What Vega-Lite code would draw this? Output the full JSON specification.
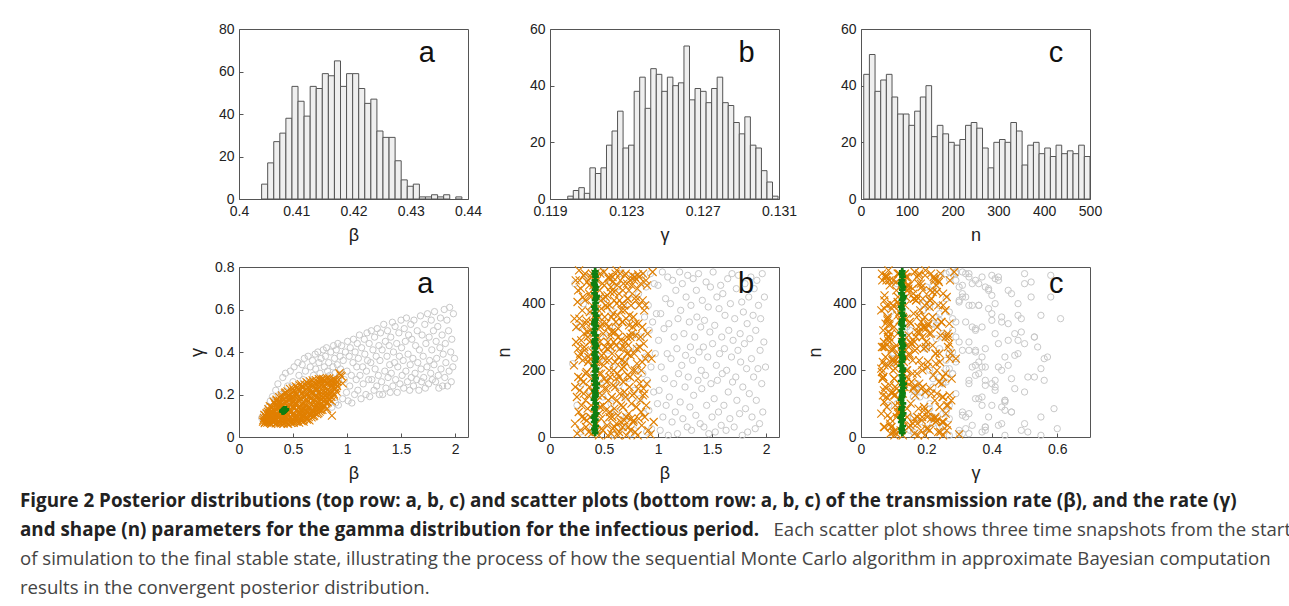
{
"$schema": "https://vega.github.io/schema/vega-lite/v6.json",
"padding": {"left": 20, "top": 21, "right": 0, "bottom": 0},
"columns": 3,
"spacing": {"row": 68, "column": 82},
"bounds": "flush",
"title": {
 "text": ["Figure 2 Posterior distributions (top row: a, b, c) and scatter plots (bottom row: a, b, c) of the transmission rate (β), and the rate (γ)", "and shape (n) parameters for the gamma distribution for the infectious period."],
 "subtitle": ["\u200b\u00a0\u00a0\u00a0\u00a0\u00a0\u00a0\u00a0\u00a0\u00a0\u00a0\u00a0\u00a0\u00a0\u00a0\u00a0\u00a0\u00a0\u00a0\u00a0\u00a0\u00a0\u00a0\u00a0\u00a0\u00a0\u00a0\u00a0\u00a0\u00a0\u00a0\u00a0\u00a0\u00a0\u00a0\u00a0\u00a0\u00a0\u00a0\u00a0\u00a0\u00a0\u00a0\u00a0\u00a0\u00a0\u00a0\u00a0\u00a0\u00a0\u00a0\u00a0\u00a0\u00a0\u00a0\u00a0\u00a0\u00a0\u00a0\u00a0\u00a0\u00a0\u00a0\u00a0\u00a0\u00a0\u00a0\u00a0\u00a0\u00a0\u00a0\u00a0\u00a0\u00a0\u00a0\u00a0\u00a0\u00a0\u00a0\u00a0\u00a0\u00a0\u00a0\u00a0\u00a0\u00a0\u00a0\u00a0\u00a0\u00a0\u00a0\u00a0\u00a0\u00a0\u00a0\u00a0\u00a0\u00a0\u00a0\u00a0\u00a0\u00a0\u00a0\u00a0\u00a0\u00a0\u00a0\u00a0\u00a0\u00a0\u00a0\u00a0\u00a0\u00a0\u00a0\u00a0\u00a0\u00a0\u00a0\u00a0\u00a0\u00a0\u00a0\u00a0\u00a0\u00a0\u00a0\u00a0\u00a0\u00a0\u00a0\u00a0\u00a0\u00a0\u00a0\u00a0\u00a0\u00a0\u00a0\u00a0\u00a0\u00a0\u00a0\u00a0\u00a0\u00a0\u00a0\u00a0\u00a0\u00a0\u00a0\u00a0\u00a0\u00a0\u00a0\u00a0 Each scatter plot shows three time snapshots from the start", "of simulation to the final stable state, illustrating the process of how the sequential Monte Carlo algorithm in approximate Bayesian computation", "results in the convergent posterior distribution."],
 "orient": "bottom", "anchor": "start", "frame": "group", "dx": -219, "offset": 9,
 "font": "Open Sans", "fontSize": 18.8, "fontWeight": "bold", "color": "#222222", "lineHeight": 29.3, "baseline": "top",
 "subtitleFont": "Open Sans", "subtitleFontSize": 18.6, "subtitleFontWeight": "normal", "subtitleColor": "#444444", "subtitleLineHeight": 29.3, "subtitlePadding": -18.8
},
"datasets": {
 "hb": [{"x0":0.40395,"x1":0.40501,"c":7},{"x0":0.40501,"x1":0.40607,"c":17},{"x0":0.40607,"x1":0.40713,"c":27},{"x0":0.40713,"x1":0.40819,"c":31},{"x0":0.40819,"x1":0.40925,"c":38},{"x0":0.40925,"x1":0.41031,"c":53},{"x0":0.41031,"x1":0.41137,"c":46},{"x0":0.41137,"x1":0.41243,"c":39},{"x0":0.41243,"x1":0.41349,"c":53},{"x0":0.41349,"x1":0.41455,"c":52},{"x0":0.41455,"x1":0.41561,"c":59},{"x0":0.41561,"x1":0.41667,"c":58},{"x0":0.41667,"x1":0.41773,"c":65},{"x0":0.41773,"x1":0.41879,"c":53},{"x0":0.41879,"x1":0.41985,"c":59},{"x0":0.41985,"x1":0.42091,"c":59},{"x0":0.42091,"x1":0.42197,"c":52},{"x0":0.42197,"x1":0.42303,"c":45},{"x0":0.42303,"x1":0.42409,"c":47},{"x0":0.42409,"x1":0.42515,"c":32},{"x0":0.42515,"x1":0.42621,"c":29},{"x0":0.42621,"x1":0.42727,"c":29},{"x0":0.42727,"x1":0.42833,"c":18},{"x0":0.42833,"x1":0.42939,"c":9},{"x0":0.42939,"x1":0.43045,"c":6},{"x0":0.43045,"x1":0.43151,"c":7},{"x0":0.43151,"x1":0.43257,"c":1},{"x0":0.43257,"x1":0.43363,"c":1},{"x0":0.43363,"x1":0.43469,"c":2},{"x0":0.43469,"x1":0.43575,"c":1},{"x0":0.43575,"x1":0.43681,"c":2},{"x0":0.43787,"x1":0.43893,"c":1}],
 "hg": [{"x0":0.11993,"x1":0.12022,"c":1},{"x0":0.12022,"x1":0.12051,"c":3},{"x0":0.12051,"x1":0.1208,"c":4},{"x0":0.1208,"x1":0.12109,"c":2},{"x0":0.12109,"x1":0.12138,"c":11},{"x0":0.12138,"x1":0.12167,"c":9},{"x0":0.12167,"x1":0.12196,"c":11},{"x0":0.12196,"x1":0.12225,"c":19},{"x0":0.12225,"x1":0.12254,"c":24},{"x0":0.12254,"x1":0.12283,"c":31},{"x0":0.12283,"x1":0.12312,"c":18},{"x0":0.12312,"x1":0.12341,"c":19},{"x0":0.12341,"x1":0.1237,"c":38},{"x0":0.1237,"x1":0.12399,"c":43},{"x0":0.12399,"x1":0.12428,"c":32},{"x0":0.12428,"x1":0.12457,"c":46},{"x0":0.12457,"x1":0.12486,"c":44},{"x0":0.12486,"x1":0.12515,"c":38},{"x0":0.12515,"x1":0.12544,"c":43},{"x0":0.12544,"x1":0.12573,"c":40},{"x0":0.12573,"x1":0.12602,"c":41},{"x0":0.12602,"x1":0.12631,"c":54},{"x0":0.12631,"x1":0.1266,"c":35},{"x0":0.1266,"x1":0.12689,"c":39},{"x0":0.12689,"x1":0.12718,"c":38},{"x0":0.12718,"x1":0.12747,"c":34},{"x0":0.12747,"x1":0.12776,"c":39},{"x0":0.12776,"x1":0.12805,"c":43},{"x0":0.12805,"x1":0.12834,"c":34},{"x0":0.12834,"x1":0.12863,"c":33},{"x0":0.12863,"x1":0.12892,"c":27},{"x0":0.12892,"x1":0.12921,"c":23},{"x0":0.12921,"x1":0.1295,"c":29},{"x0":0.1295,"x1":0.12979,"c":19},{"x0":0.12979,"x1":0.13008,"c":18},{"x0":0.13008,"x1":0.13037,"c":10},{"x0":0.13037,"x1":0.13066,"c":6},{"x0":0.13066,"x1":0.13095,"c":1}],
 "hn": [{"x0":6,"x1":18.35,"c":44},{"x0":18.35,"x1":30.7,"c":51},{"x0":30.7,"x1":43.05,"c":38},{"x0":43.05,"x1":55.4,"c":42},{"x0":55.4,"x1":67.75,"c":44},{"x0":67.75,"x1":80.1,"c":36},{"x0":80.1,"x1":92.45,"c":30},{"x0":92.45,"x1":104.8,"c":30},{"x0":104.8,"x1":117.15,"c":26},{"x0":117.15,"x1":129.5,"c":31},{"x0":129.5,"x1":141.85,"c":36},{"x0":141.85,"x1":154.2,"c":40},{"x0":154.2,"x1":166.55,"c":22},{"x0":166.55,"x1":178.9,"c":26},{"x0":178.9,"x1":191.25,"c":23},{"x0":191.25,"x1":203.6,"c":20},{"x0":203.6,"x1":215.95,"c":19},{"x0":215.95,"x1":228.3,"c":21},{"x0":228.3,"x1":240.65,"c":26},{"x0":240.65,"x1":253,"c":27},{"x0":253,"x1":265.35,"c":25},{"x0":265.35,"x1":277.7,"c":18},{"x0":277.7,"x1":290.05,"c":11},{"x0":290.05,"x1":302.4,"c":20},{"x0":302.4,"x1":314.75,"c":21},{"x0":314.75,"x1":327.1,"c":20},{"x0":327.1,"x1":339.45,"c":27},{"x0":339.45,"x1":351.8,"c":24},{"x0":351.8,"x1":364.15,"c":12},{"x0":364.15,"x1":376.5,"c":19},{"x0":376.5,"x1":388.85,"c":20},{"x0":388.85,"x1":401.2,"c":16},{"x0":401.2,"x1":413.55,"c":18},{"x0":413.55,"x1":425.9,"c":15},{"x0":425.9,"x1":438.25,"c":19},{"x0":438.25,"x1":450.6,"c":16},{"x0":450.6,"x1":462.95,"c":17},{"x0":462.95,"x1":475.3,"c":16},{"x0":475.3,"x1":487.65,"c":19},{"x0":487.65,"x1":500,"c":15}],
 "grey": [{"b":0.21,"g":0.09,"n":220},{"b":0.23,"g":0.11,"n":460},{"b":0.25,"g":0.085,"n":95},{"b":0.27,"g":0.14,"n":330},{"b":0.28,"g":0.1,"n":15},{"b":0.29,"g":0.17,"n":160},
 {"b":0.31,"g":0.19,"n":400},{"b":0.32,"g":0.1,"n":250},{"b":0.34,"g":0.22,"n":60},{"b":0.35,"g":0.13,"n":480},{"b":0.36,"g":0.25,"n":310},{"b":0.37,"g":0.16,"n":140},{"b":0.38,"g":0.09,"n":375},{"b":0.39,"g":0.2,"n":25},
 {"b":0.405,"g":0.28,"n":190},{"b":0.41,"g":0.12,"n":440},{"b":0.42,"g":0.21,"n":85},{"b":0.43,"g":0.3,"n":285},{"b":0.44,"g":0.15,"n":20},{"b":0.45,"g":0.24,"n":350},{"b":0.46,"g":0.1,"n":235},{"b":0.475,"g":0.31,"n":495},{"b":0.49,"g":0.18,"n":120},
 {"b":0.5,"g":0.26,"n":415},{"b":0.51,"g":0.33,"n":170},{"b":0.52,"g":0.14,"n":300},{"b":0.53,"g":0.22,"n":40},{"b":0.545,"g":0.35,"n":260},{"b":0.555,"g":0.29,"n":470},{"b":0.565,"g":0.11,"n":100},{"b":0.575,"g":0.19,"n":380},{"b":0.585,"g":0.34,"n":210},{"b":0.595,"g":0.27,"n":5},
 {"b":0.605,"g":0.37,"n":330},{"b":0.615,"g":0.31,"n":75},{"b":0.625,"g":0.2,"n":450},{"b":0.64,"g":0.38,"n":155},{"b":0.65,"g":0.13,"n":270},{"b":0.66,"g":0.33,"n":490},{"b":0.67,"g":0.25,"n":30},{"b":0.68,"g":0.36,"n":395},{"b":0.69,"g":0.29,"n":225},{"b":0.695,"g":0.16,"n":120},
 {"b":0.705,"g":0.39,"n":60},{"b":0.71,"g":0.32,"n":345},{"b":0.72,"g":0.22,"n":175},{"b":0.73,"g":0.4,"n":425},{"b":0.74,"g":0.35,"n":255},{"b":0.75,"g":0.3,"n":10},{"b":0.76,"g":0.37,"n":480},{"b":0.77,"g":0.13,"n":305},{"b":0.78,"g":0.41,"n":140},{"b":0.79,"g":0.33,"n":395},{"b":0.795,"g":0.27,"n":205},
 {"b":0.8,"g":0.38,"n":265},{"b":0.81,"g":0.42,"n":35},{"b":0.82,"g":0.31,"n":430},{"b":0.83,"g":0.35,"n":115},{"b":0.84,"g":0.29,"n":300},{"b":0.85,"g":0.4,"n":485},{"b":0.86,"g":0.14,"n":190},{"b":0.87,"g":0.33,"n":70},{"b":0.875,"g":0.43,"n":360},{"b":0.885,"g":0.37,"n":240},{"b":0.89,"g":0.3,"n":450},{"b":0.895,"g":0.16,"n":15},
 {"b":0.9,"g":0.41,"n":170},{"b":0.91,"g":0.34,"n":395},{"b":0.915,"g":0.44,"n":80},{"b":0.92,"g":0.15,"n":320},{"b":0.93,"g":0.29,"n":490},{"b":0.935,"g":0.38,"n":210},{"b":0.94,"g":0.32,"n":25},{"b":0.95,"g":0.43,"n":345},{"b":0.96,"g":0.18,"n":135},{"b":0.965,"g":0.36,"n":460},{"b":0.975,"g":0.27,"n":250},{"b":0.985,"g":0.4,"n":370},{"b":0.995,"g":0.21,"n":100},
 {"b":1.0,"g":0.31,"n":455},{"b":1.005,"g":0.45,"n":290},{"b":1.01,"g":0.17,"n":140},{"b":1.02,"g":0.38,"n":20},{"b":1.025,"g":0.24,"n":370},{"b":1.03,"g":0.42,"n":210},{"b":1.04,"g":0.29,"n":495},{"b":1.045,"g":0.16,"n":60},{"b":1.055,"g":0.35,"n":325},{"b":1.06,"g":0.46,"n":175},{"b":1.07,"g":0.2,"n":415},{"b":1.075,"g":0.4,"n":95},{"b":1.085,"g":0.27,"n":250},{"b":1.09,"g":0.33,"n":480},{"b":1.095,"g":0.44,"n":5},
 {"b":1.1,"g":0.22,"n":340},{"b":1.105,"g":0.37,"n":120},{"b":1.115,"g":0.48,"n":400},{"b":1.12,"g":0.29,"n":235},{"b":1.13,"g":0.18,"n":45},{"b":1.135,"g":0.42,"n":470},{"b":1.145,"g":0.33,"n":160},{"b":1.15,"g":0.25,"n":300},{"b":1.16,"g":0.46,"n":75},{"b":1.165,"g":0.39,"n":440},{"b":1.175,"g":0.2,"n":265},{"b":1.18,"g":0.31,"n":10},{"b":1.185,"g":0.49,"n":355},{"b":1.19,"g":0.36,"n":190},{"b":1.2,"g":0.27,"n":495},
 {"b":1.205,"g":0.44,"n":105},{"b":1.21,"g":0.19,"n":380},{"b":1.22,"g":0.35,"n":215},{"b":1.225,"g":0.5,"n":460},{"b":1.23,"g":0.27,"n":55},{"b":1.24,"g":0.41,"n":310},{"b":1.25,"g":0.22,"n":150},{"b":1.255,"g":0.47,"n":245},{"b":1.26,"g":0.32,"n":420},{"b":1.27,"g":0.38,"n":30},{"b":1.275,"g":0.24,"n":485},{"b":1.28,"g":0.51,"n":180},{"b":1.29,"g":0.29,"n":345},{"b":1.295,"g":0.43,"n":90},{"b":1.3,"g":0.2,"n":270},
 {"b":1.305,"g":0.36,"n":395},{"b":1.31,"g":0.49,"n":20},{"b":1.32,"g":0.26,"n":230},{"b":1.325,"g":0.41,"n":475},{"b":1.33,"g":0.2,"n":125},{"b":1.34,"g":0.53,"n":300},{"b":1.35,"g":0.31,"n":65},{"b":1.355,"g":0.45,"n":440},{"b":1.36,"g":0.23,"n":360},{"b":1.37,"g":0.38,"n":170},{"b":1.375,"g":0.5,"n":490},{"b":1.38,"g":0.28,"n":255},{"b":1.39,"g":0.43,"n":40},{"b":1.395,"g":0.34,"n":330},{"b":1.4,"g":0.21,"n":200},
 {"b":1.405,"g":0.47,"n":145},{"b":1.41,"g":0.3,"n":410},{"b":1.42,"g":0.54,"n":270},{"b":1.425,"g":0.24,"n":30},{"b":1.43,"g":0.4,"n":350},{"b":1.44,"g":0.35,"n":185},{"b":1.445,"g":0.52,"n":465},{"b":1.45,"g":0.27,"n":95},{"b":1.46,"g":0.44,"n":240},{"b":1.465,"g":0.21,"n":390},{"b":1.47,"g":0.33,"n":10},{"b":1.48,"g":0.49,"n":315},{"b":1.485,"g":0.38,"n":450},{"b":1.49,"g":0.25,"n":160},{"b":1.5,"g":0.55,"n":60},
 {"b":1.505,"g":0.42,"n":280},{"b":1.51,"g":0.29,"n":495},{"b":1.52,"g":0.36,"n":115},{"b":1.525,"g":0.23,"n":335},{"b":1.53,"g":0.51,"n":15},{"b":1.54,"g":0.45,"n":215},{"b":1.545,"g":0.31,"n":420},{"b":1.55,"g":0.56,"n":170},{"b":1.56,"g":0.26,"n":75},{"b":1.565,"g":0.39,"n":385},{"b":1.57,"g":0.48,"n":250},{"b":1.58,"g":0.22,"n":455},{"b":1.585,"g":0.34,"n":35},{"b":1.59,"g":0.53,"n":300},{"b":1.595,"g":0.28,"n":190},
 {"b":1.6,"g":0.46,"n":430},{"b":1.61,"g":0.37,"n":95},{"b":1.615,"g":0.24,"n":265},{"b":1.62,"g":0.55,"n":365},{"b":1.63,"g":0.3,"n":20},{"b":1.635,"g":0.43,"n":200},{"b":1.645,"g":0.27,"n":475},{"b":1.65,"g":0.5,"n":135},{"b":1.655,"g":0.35,"n":320},{"b":1.665,"g":0.22,"n":55},{"b":1.67,"g":0.41,"n":400},{"b":1.68,"g":0.57,"n":240},{"b":1.685,"g":0.32,"n":490},{"b":1.69,"g":0.26,"n":165},{"b":1.695,"g":0.48,"n":290},
 {"b":1.705,"g":0.38,"n":30},{"b":1.71,"g":0.28,"n":355},{"b":1.72,"g":0.53,"n":180},{"b":1.725,"g":0.23,"n":445},{"b":1.73,"g":0.44,"n":110},{"b":1.74,"g":0.33,"n":260},{"b":1.745,"g":0.58,"n":485},{"b":1.755,"g":0.25,"n":70},{"b":1.76,"g":0.47,"n":310},{"b":1.765,"g":0.36,"n":225},{"b":1.775,"g":0.3,"n":405},{"b":1.78,"g":0.55,"n":5},{"b":1.785,"g":0.41,"n":150},{"b":1.79,"g":0.27,"n":375},{"b":1.8,"g":0.5,"n":280},
 {"b":1.805,"g":0.34,"n":460},{"b":1.81,"g":0.59,"n":85},{"b":1.82,"g":0.26,"n":205},{"b":1.825,"g":0.45,"n":340},{"b":1.83,"g":0.37,"n":15},{"b":1.84,"g":0.52,"n":420},{"b":1.845,"g":0.29,"n":130},{"b":1.85,"g":0.23,"n":295},{"b":1.86,"g":0.42,"n":480},{"b":1.865,"g":0.56,"n":235},{"b":1.87,"g":0.32,"n":60},{"b":1.88,"g":0.48,"n":365},{"b":1.885,"g":0.24,"n":180},{"b":1.89,"g":0.39,"n":445},{"b":1.9,"g":0.6,"n":25},
 {"b":1.905,"g":0.28,"n":320},{"b":1.91,"g":0.44,"n":110},{"b":1.915,"g":0.35,"n":470},{"b":1.925,"g":0.55,"n":205},{"b":1.93,"g":0.24,"n":395},{"b":1.94,"g":0.5,"n":40},{"b":1.945,"g":0.31,"n":260},{"b":1.95,"g":0.61,"n":355},{"b":1.96,"g":0.4,"n":160},{"b":1.965,"g":0.26,"n":490},{"b":1.97,"g":0.46,"n":75},{"b":1.98,"g":0.33,"n":285},{"b":1.985,"g":0.58,"n":420},{"b":1.995,"g":0.37,"n":210}],
 "orange": [{"b":0.222,"g":0.072,"n":215},{"b":0.231,"g":0.089,"n":40},{"b":0.238,"g":0.065,"n":470},{"b":0.244,"g":0.101,"n":330},{"b":0.249,"g":0.078,"n":120},{"b":0.255,"g":0.112,"n":405},{"b":0.258,"g":0.094,"n":265},{"b":0.262,"g":0.068,"n":180},{"b":0.266,"g":0.118,"n":75},{"b":0.269,"g":0.084,"n":500},
 {"b":0.272,"g":0.131,"n":355},{"b":0.276,"g":0.07,"n":140},{"b":0.281,"g":0.108,"n":20},{"b":0.285,"g":0.145,"n":445},{"b":0.289,"g":0.083,"n":290},{"b":0.293,"g":0.119,"n":95},{"b":0.298,"g":0.062,"n":380},{"b":0.302,"g":0.096,"n":230},{"b":0.307,"g":0.138,"n":165},{"b":0.311,"g":0.076,"n":485},{"b":0.315,"g":0.112,"n":310},{"b":0.318,"g":0.089,"n":55},
 {"b":0.322,"g":0.165,"n":260},{"b":0.325,"g":0.071,"n":410},{"b":0.329,"g":0.124,"n":110},{"b":0.333,"g":0.093,"n":30},{"b":0.336,"g":0.152,"n":340},{"b":0.34,"g":0.064,"n":195},{"b":0.344,"g":0.108,"n":465},{"b":0.348,"g":0.176,"n":85},{"b":0.351,"g":0.082,"n":300},{"b":0.355,"g":0.137,"n":240},{"b":0.359,"g":0.099,"n":15},{"b":0.362,"g":0.16,"n":430},{"b":0.366,"g":0.074,"n":150},{"b":0.369,"g":0.118,"n":375},
 {"b":0.372,"g":0.187,"n":60},{"b":0.375,"g":0.068,"n":320},{"b":0.379,"g":0.142,"n":480},{"b":0.383,"g":0.101,"n":175},{"b":0.386,"g":0.163,"n":10},{"b":0.39,"g":0.079,"n":395},{"b":0.394,"g":0.125,"n":255},{"b":0.397,"g":0.196,"n":135},{"b":0.401,"g":0.088,"n":455},{"b":0.405,"g":0.153,"n":280},{"b":0.409,"g":0.113,"n":70},{"b":0.412,"g":0.062,"n":205},{"b":0.415,"g":0.176,"n":365},{"b":0.418,"g":0.134,"n":490},
 {"b":0.422,"g":0.071,"n":105},{"b":0.425,"g":0.205,"n":225},{"b":0.428,"g":0.118,"n":350},{"b":0.432,"g":0.159,"n":40},{"b":0.435,"g":0.087,"n":470},{"b":0.439,"g":0.188,"n":300},{"b":0.442,"g":0.131,"n":160},{"b":0.446,"g":0.064,"n":270},{"b":0.449,"g":0.215,"n":415},{"b":0.453,"g":0.102,"n":5},{"b":0.456,"g":0.171,"n":190},{"b":0.46,"g":0.143,"n":440},{"b":0.463,"g":0.079,"n":90},{"b":0.467,"g":0.196,"n":330},
 {"b":0.472,"g":0.226,"n":55},{"b":0.475,"g":0.095,"n":385},{"b":0.479,"g":0.148,"n":245},{"b":0.482,"g":0.067,"n":125},{"b":0.486,"g":0.183,"n":460},{"b":0.489,"g":0.121,"n":20},{"b":0.493,"g":0.208,"n":310},{"b":0.496,"g":0.083,"n":215},{"b":0.5,"g":0.164,"n":495},{"b":0.504,"g":0.109,"n":145},{"b":0.507,"g":0.219,"n":360},{"b":0.511,"g":0.073,"n":270},{"b":0.514,"g":0.137,"n":420},{"b":0.518,"g":0.192,"n":80},
 {"b":0.522,"g":0.087,"n":340},{"b":0.525,"g":0.238,"n":165},{"b":0.529,"g":0.151,"n":35},{"b":0.532,"g":0.072,"n":425},{"b":0.536,"g":0.199,"n":285},{"b":0.539,"g":0.119,"n":110},{"b":0.543,"g":0.224,"n":475},{"b":0.546,"g":0.097,"n":230},{"b":0.55,"g":0.172,"n":60},{"b":0.553,"g":0.135,"n":395},{"b":0.557,"g":0.068,"n":180},{"b":0.56,"g":0.243,"n":305},{"b":0.564,"g":0.185,"n":450},{"b":0.567,"g":0.108,"n":10},
 {"b":0.572,"g":0.249,"n":120},{"b":0.575,"g":0.128,"n":250},{"b":0.579,"g":0.075,"n":480},{"b":0.582,"g":0.205,"n":25},{"b":0.586,"g":0.161,"n":370},{"b":0.589,"g":0.098,"n":200},{"b":0.593,"g":0.232,"n":435},{"b":0.596,"g":0.141,"n":85},{"b":0.6,"g":0.083,"n":315},{"b":0.604,"g":0.189,"n":150},{"b":0.607,"g":0.117,"n":490},{"b":0.611,"g":0.219,"n":275},{"b":0.614,"g":0.172,"n":40},{"b":0.618,"g":0.091,"n":400},
 {"b":0.622,"g":0.147,"n":455},{"b":0.625,"g":0.258,"n":190},{"b":0.629,"g":0.082,"n":65},{"b":0.632,"g":0.199,"n":325},{"b":0.636,"g":0.115,"n":240},{"b":0.639,"g":0.236,"n":15},{"b":0.643,"g":0.168,"n":410},{"b":0.646,"g":0.094,"n":130},{"b":0.65,"g":0.214,"n":490},{"b":0.654,"g":0.131,"n":290},{"b":0.657,"g":0.262,"n":95},{"b":0.661,"g":0.181,"n":380},{"b":0.664,"g":0.105,"n":205},{"b":0.668,"g":0.245,"n":345},
 {"b":0.672,"g":0.092,"n":30},{"b":0.675,"g":0.211,"n":440},{"b":0.679,"g":0.154,"n":165},{"b":0.682,"g":0.266,"n":270},{"b":0.686,"g":0.118,"n":395},{"b":0.689,"g":0.232,"n":50},{"b":0.693,"g":0.176,"n":485},{"b":0.696,"g":0.101,"n":225},{"b":0.7,"g":0.251,"n":120},{"b":0.704,"g":0.139,"n":355},{"b":0.707,"g":0.195,"n":5},{"b":0.711,"g":0.268,"n":300},{"b":0.714,"g":0.125,"n":460},{"b":0.718,"g":0.221,"n":185},
 {"b":0.722,"g":0.162,"n":415},{"b":0.725,"g":0.108,"n":275},{"b":0.729,"g":0.259,"n":70},{"b":0.732,"g":0.205,"n":335},{"b":0.736,"g":0.133,"n":150},{"b":0.739,"g":0.272,"n":470},{"b":0.743,"g":0.183,"n":20},{"b":0.746,"g":0.119,"n":245},{"b":0.75,"g":0.236,"n":395},{"b":0.754,"g":0.152,"n":100},{"b":0.757,"g":0.265,"n":310},{"b":0.761,"g":0.196,"n":485},{"b":0.764,"g":0.141,"n":200},{"b":0.768,"g":0.248,"n":45},
 {"b":0.772,"g":0.128,"n":360},{"b":0.776,"g":0.215,"n":130},{"b":0.78,"g":0.274,"n":250},{"b":0.784,"g":0.171,"n":480},{"b":0.788,"g":0.243,"n":15},{"b":0.792,"g":0.146,"n":305},{"b":0.796,"g":0.262,"n":420},{"b":0.8,"g":0.193,"n":90},{"b":0.805,"g":0.229,"n":220},{"b":0.809,"g":0.158,"n":445},{"b":0.814,"g":0.277,"n":175},{"b":0.818,"g":0.206,"n":340},
 {"b":0.822,"g":0.163,"n":55},{"b":0.826,"g":0.251,"n":395},{"b":0.831,"g":0.198,"n":270},{"b":0.836,"g":0.276,"n":110},{"b":0.84,"g":0.176,"n":460},{"b":0.845,"g":0.232,"n":200},{"b":0.85,"g":0.265,"n":35},{"b":0.855,"g":0.189,"n":330},{"b":0.861,"g":0.243,"n":490},{"b":0.866,"g":0.212,"n":145},
 {"b":0.872,"g":0.258,"n":380},{"b":0.877,"g":0.203,"n":60},{"b":0.883,"g":0.271,"n":235},{"b":0.889,"g":0.226,"n":470},{"b":0.896,"g":0.247,"n":160},{"b":0.903,"g":0.214,"n":310},{"b":0.911,"g":0.262,"n":20},
 {"b":0.815,"g":0.133,"n":488},{"b":0.86,"g":0.101,"n":125},{"b":0.94,"g":0.29,"n":235},{"b":0.96,"g":0.252,"n":45},{"b":0.93,"g":0.3,"n":8},{"b":0.95,"g":0.285,"n":495},
 {"b":0.226,"g":0.081,"n":355},{"b":0.234,"g":0.104,"n":150},{"b":0.241,"g":0.07,"n":285},{"b":0.252,"g":0.09,"n":10},{"b":0.26,"g":0.108,"n":440},{"b":0.268,"g":0.075,"n":240},
 {"b":0.274,"g":0.098,"n":470},{"b":0.279,"g":0.125,"n":250},{"b":0.287,"g":0.066,"n":175},{"b":0.295,"g":0.141,"n":60},{"b":0.3,"g":0.087,"n":335},{"b":0.305,"g":0.113,"n":420},{"b":0.313,"g":0.128,"n":130},{"b":0.317,"g":0.069,"n":270},
 {"b":0.324,"g":0.114,"n":490},{"b":0.331,"g":0.158,"n":190},{"b":0.338,"g":0.081,"n":350},{"b":0.342,"g":0.13,"n":50},{"b":0.346,"g":0.171,"n":315},{"b":0.353,"g":0.067,"n":225},{"b":0.357,"g":0.104,"n":125},{"b":0.364,"g":0.145,"n":455},{"b":0.368,"g":0.088,"n":285},
 {"b":0.373,"g":0.097,"n":235},{"b":0.377,"g":0.171,"n":420},{"b":0.381,"g":0.119,"n":95},{"b":0.388,"g":0.064,"n":490},{"b":0.392,"g":0.149,"n":345},{"b":0.399,"g":0.185,"n":215},{"b":0.403,"g":0.07,"n":30},{"b":0.407,"g":0.134,"n":445},{"b":0.411,"g":0.092,"n":310},{"b":0.416,"g":0.161,"n":150},
 {"b":0.424,"g":0.137,"n":480},{"b":0.427,"g":0.094,"n":260},{"b":0.431,"g":0.21,"n":20},{"b":0.437,"g":0.072,"n":385},{"b":0.441,"g":0.166,"n":125},{"b":0.447,"g":0.112,"n":225},{"b":0.451,"g":0.195,"n":360},{"b":0.455,"g":0.062,"n":70},{"b":0.461,"g":0.125,"n":285},{"b":0.466,"g":0.178,"n":490},
 {"b":0.474,"g":0.131,"n":190},{"b":0.478,"g":0.2,"n":25},{"b":0.484,"g":0.075,"n":340},{"b":0.488,"g":0.161,"n":415},{"b":0.491,"g":0.105,"n":95},{"b":0.497,"g":0.229,"n":250},{"b":0.502,"g":0.141,"n":455},{"b":0.506,"g":0.066,"n":175},{"b":0.513,"g":0.178,"n":230},{"b":0.517,"g":0.098,"n":395},
 {"b":0.523,"g":0.16,"n":145},{"b":0.527,"g":0.21,"n":390},{"b":0.531,"g":0.101,"n":265},{"b":0.535,"g":0.128,"n":5},{"b":0.541,"g":0.233,"n":330},{"b":0.544,"g":0.079,"n":480},{"b":0.548,"g":0.188,"n":200},{"b":0.554,"g":0.113,"n":75},{"b":0.559,"g":0.219,"n":435},{"b":0.562,"g":0.146,"n":270},{"b":0.569,"g":0.082,"n":360},
 {"b":0.571,"g":0.179,"n":315},{"b":0.577,"g":0.109,"n":60},{"b":0.581,"g":0.238,"n":465},{"b":0.584,"g":0.088,"n":155},{"b":0.59,"g":0.151,"n":285},{"b":0.595,"g":0.212,"n":410},{"b":0.598,"g":0.072,"n":30},{"b":0.603,"g":0.131,"n":225},{"b":0.609,"g":0.246,"n":345},{"b":0.612,"g":0.102,"n":175},{"b":0.617,"g":0.197,"n":500},
 {"b":0.621,"g":0.226,"n":110},{"b":0.627,"g":0.123,"n":365},{"b":0.631,"g":0.174,"n":5},{"b":0.634,"g":0.086,"n":300},{"b":0.638,"g":0.251,"n":430},{"b":0.644,"g":0.14,"n":180},{"b":0.648,"g":0.192,"n":265},{"b":0.652,"g":0.078,"n":470},{"b":0.656,"g":0.229,"n":45},{"b":0.662,"g":0.158,"n":230},{"b":0.667,"g":0.116,"n":400},
 {"b":0.671,"g":0.184,"n":345},{"b":0.677,"g":0.24,"n":90},{"b":0.68,"g":0.128,"n":460},{"b":0.684,"g":0.203,"n":210},{"b":0.688,"g":0.097,"n":135},{"b":0.692,"g":0.258,"n":380},{"b":0.698,"g":0.163,"n":285},{"b":0.702,"g":0.112,"n":490},{"b":0.706,"g":0.227,"n":60},{"b":0.712,"g":0.148,"n":250},{"b":0.717,"g":0.189,"n":415},
 {"b":0.721,"g":0.227,"n":250},{"b":0.727,"g":0.145,"n":30},{"b":0.731,"g":0.189,"n":440},{"b":0.735,"g":0.112,"n":365},{"b":0.741,"g":0.251,"n":180},{"b":0.745,"g":0.168,"n":300},{"b":0.752,"g":0.214,"n":55},{"b":0.756,"g":0.127,"n":455},{"b":0.762,"g":0.271,"n":125},{"b":0.767,"g":0.176,"n":330},
 {"b":0.774,"g":0.186,"n":50},{"b":0.779,"g":0.236,"n":470},{"b":0.786,"g":0.139,"n":200},{"b":0.791,"g":0.27,"n":340},{"b":0.798,"g":0.21,"n":410},{"b":0.803,"g":0.171,"n":265},{"b":0.811,"g":0.251,"n":5},{"b":0.817,"g":0.184,"n":145},
 {"b":0.824,"g":0.222,"n":480},{"b":0.829,"g":0.178,"n":160},{"b":0.838,"g":0.259,"n":300},{"b":0.843,"g":0.205,"n":75},{"b":0.853,"g":0.241,"n":225},{"b":0.858,"g":0.169,"n":410},{"b":0.868,"g":0.27,"n":280},
 {"b":0.875,"g":0.232,"n":130},{"b":0.881,"g":0.195,"n":395},{"b":0.891,"g":0.266,"n":95},{"b":0.899,"g":0.23,"n":455},{"b":0.908,"g":0.24,"n":250}],
 "green": [{"b":0.418,"g":0.1262,"n":12},{"b":0.412,"g":0.1241,"n":25},{"b":0.423,"g":0.1275,"n":33},{"b":0.409,"g":0.123,"n":45},{"b":0.42,"g":0.1268,"n":52},{"b":0.415,"g":0.1251,"n":64},{"b":0.427,"g":0.129,"n":71},{"b":0.411,"g":0.1236,"n":83},{"b":0.419,"g":0.1259,"n":90},{"b":0.424,"g":0.1281,"n":101},{"b":0.407,"g":0.1224,"n":112},{"b":0.416,"g":0.1255,"n":120},{"b":0.421,"g":0.127,"n":131},{"b":0.413,"g":0.1246,"n":139},{"b":0.429,"g":0.1296,"n":147},{"b":0.417,"g":0.1262,"n":156},{"b":0.41,"g":0.1229,"n":168},{"b":0.422,"g":0.1277,"n":176},{"b":0.414,"g":0.1249,"n":185},{"b":0.419,"g":0.1266,"n":197},{"b":0.426,"g":0.1284,"n":205},{"b":0.408,"g":0.1221,"n":214},{"b":0.417,"g":0.1252,"n":226},{"b":0.423,"g":0.1273,"n":234},{"b":0.412,"g":0.124,"n":247},{"b":0.42,"g":0.1263,"n":255},{"b":0.415,"g":0.1257,"n":266},{"b":0.425,"g":0.1288,"n":274},{"b":0.411,"g":0.1233,"n":286},{"b":0.418,"g":0.126,"n":293},{"b":0.421,"g":0.1271,"n":305},{"b":0.406,"g":0.1216,"n":313},{"b":0.416,"g":0.1249,"n":324},{"b":0.424,"g":0.1279,"n":333},{"b":0.413,"g":0.1243,"n":345},{"b":0.419,"g":0.1265,"n":352},{"b":0.428,"g":0.1293,"n":364},{"b":0.414,"g":0.125,"n":372},{"b":0.42,"g":0.1258,"n":383},{"b":0.41,"g":0.1235,"n":391},{"b":0.422,"g":0.1274,"n":402},{"b":0.417,"g":0.1255,"n":411},{"b":0.431,"g":0.1301,"n":423},{"b":0.412,"g":0.1238,"n":431},{"b":0.419,"g":0.1263,"n":442},{"b":0.425,"g":0.1282,"n":450},{"b":0.409,"g":0.1227,"n":461},{"b":0.416,"g":0.1254,"n":470},{"b":0.421,"g":0.1268,"n":481},{"b":0.414,"g":0.1245,"n":489},{"b":0.418,"g":0.1261,"n":497},{"b":0.405,"g":0.1212,"n":58},{"b":0.434,"g":0.1305,"n":160},{"b":0.423,"g":0.1269,"n":240},{"b":0.411,"g":0.1237,"n":338},{"b":0.426,"g":0.1286,"n":416},{"b":0.415,"g":0.1253,"n":20},{"b":0.42,"g":0.1259,"n":124},{"b":0.417,"g":0.1264,"n":280},{"b":0.413,"g":0.1247,"n":456}]
},
"concat": [
 {"width": 229, "height": 170, "layer": [
  {"data": {"name": "hb"}, "mark": {"type": "bar", "fill": "#efefef", "stroke": "#555555", "strokeWidth": 1},
   "encoding": {"x": {"field": "x0", "type": "quantitative", "scale": {"domain": [0.4, 0.44], "nice": false, "zero": false}, "axis": {"values": [0.4, 0.41, 0.42, 0.43, 0.44], "format": "~g", "title": "β"}},
    "x2": {"field": "x1"},
    "y": {"field": "c", "type": "quantitative", "scale": {"domain": [0, 80], "nice": false}, "axis": {"values": [0, 20, 40, 60, 80], "title": null}},
    "y2": {"datum": 0}}},
  {"data": {"values": [{}]}, "mark": {"type": "text", "fontSize": 29, "baseline": "alphabetic", "align": "center", "color": "#111111"},
   "encoding": {"x": {"datum": 0.4328}, "y": {"datum": 64.5}, "text": {"value": "a"}}}
 ]},
 {"width": 229, "height": 170, "layer": [
  {"data": {"name": "hg"}, "mark": {"type": "bar", "fill": "#efefef", "stroke": "#555555", "strokeWidth": 1},
   "encoding": {"x": {"field": "x0", "type": "quantitative", "scale": {"domain": [0.119, 0.131], "nice": false, "zero": false}, "axis": {"values": [0.119, 0.123, 0.127, 0.131], "format": "~g", "title": "γ"}},
    "x2": {"field": "x1"},
    "y": {"field": "c", "type": "quantitative", "scale": {"domain": [0, 60], "nice": false}, "axis": {"values": [0, 20, 40, 60], "title": null}},
    "y2": {"datum": 0}}},
  {"data": {"values": [{}]}, "mark": {"type": "text", "fontSize": 29, "baseline": "alphabetic", "align": "center", "color": "#111111"},
   "encoding": {"x": {"datum": 0.1293}, "y": {"datum": 48.4}, "text": {"value": "b"}}}
 ]},
 {"width": 229, "height": 170, "layer": [
  {"data": {"name": "hn"}, "mark": {"type": "bar", "fill": "#efefef", "stroke": "#555555", "strokeWidth": 1},
   "encoding": {"x": {"field": "x0", "type": "quantitative", "scale": {"domain": [0, 500], "nice": false}, "axis": {"values": [0, 100, 200, 300, 400, 500], "title": "n"}},
    "x2": {"field": "x1"},
    "y": {"field": "c", "type": "quantitative", "scale": {"domain": [0, 60], "nice": false}, "axis": {"values": [0, 20, 40, 60], "title": null}},
    "y2": {"datum": 0}}},
  {"data": {"values": [{}]}, "mark": {"type": "text", "fontSize": 29, "baseline": "alphabetic", "align": "center", "color": "#111111"},
   "encoding": {"x": {"datum": 426}, "y": {"datum": 48.4}, "text": {"value": "c"}}}
 ]},
 {"width": 229, "height": 170, "layer": [
  {"data": {"name": "grey"}, "mark": {"type": "point", "shape": "circle", "filled": false, "stroke": "#c8c8c8", "strokeWidth": 1, "size": 40, "opacity": 1},
   "encoding": {"x": {"field": "b", "type": "quantitative", "scale": {"domain": [0, 2.12], "nice": false}, "axis": {"values": [0, 0.5, 1, 1.5, 2], "format": "~g", "title": "β"}},
    "y": {"field": "g", "type": "quantitative", "scale": {"domain": [0, 0.8], "nice": false}, "axis": {"values": [0, 0.2, 0.4, 0.6, 0.8], "format": "~g", "title": "γ"}}}},
  {"data": {"name": "orange"}, "mark": {"type": "point", "shape": "M-1,-1L1,1M-1,1L1,-1", "filled": false, "stroke": "#e07f00", "strokeWidth": 1.1, "size": 64, "opacity": 1},
   "encoding": {"x": {"field": "b", "type": "quantitative"}, "y": {"field": "g", "type": "quantitative"}}},
  {"data": {"name": "green"}, "mark": {"type": "point", "shape": "cross", "filled": true, "fill": "#0f7f12", "size": 45, "opacity": 1},
   "encoding": {"x": {"field": "b", "type": "quantitative"}, "y": {"field": "g", "type": "quantitative"}}},
  {"data": {"values": [{}]}, "mark": {"type": "text", "fontSize": 29, "baseline": "alphabetic", "align": "center", "color": "#111111"},
   "encoding": {"x": {"datum": 1.724}, "y": {"datum": 0.678}, "text": {"value": "a"}}}
 ]},
 {"width": 229, "height": 170, "layer": [
  {"data": {"name": "grey"}, "mark": {"type": "point", "shape": "circle", "filled": false, "stroke": "#c8c8c8", "strokeWidth": 1, "size": 40, "opacity": 1},
   "encoding": {"x": {"field": "b", "type": "quantitative", "scale": {"domain": [0, 2.12], "nice": false}, "axis": {"values": [0, 0.5, 1, 1.5, 2], "format": "~g", "title": "β"}},
    "y": {"field": "n", "type": "quantitative", "scale": {"domain": [0, 510], "nice": false}, "axis": {"values": [0, 100, 200, 300, 400, 500], "title": "n"}}}},
  {"data": {"name": "orange"}, "mark": {"type": "point", "shape": "M-1,-1L1,1M-1,1L1,-1", "filled": false, "stroke": "#e07f00", "strokeWidth": 1.1, "size": 64, "opacity": 1},
   "encoding": {"x": {"field": "b", "type": "quantitative"}, "y": {"field": "n", "type": "quantitative"}}},
  {"data": {"name": "green"}, "mark": {"type": "point", "shape": "cross", "filled": true, "fill": "#0f7f12", "size": 45, "opacity": 1},
   "encoding": {"x": {"field": "b", "type": "quantitative"}, "y": {"field": "n", "type": "quantitative"}}},
  {"data": {"values": [{}]}, "mark": {"type": "text", "fontSize": 29, "baseline": "alphabetic", "align": "center", "color": "#111111"},
   "encoding": {"x": {"datum": 1.816}, "y": {"datum": 432}, "text": {"value": "b"}}}
 ]},
 {"width": 229, "height": 170, "layer": [
  {"data": {"name": "grey"}, "mark": {"type": "point", "shape": "circle", "filled": false, "stroke": "#c8c8c8", "strokeWidth": 1, "size": 40, "opacity": 1},
   "encoding": {"x": {"field": "g", "type": "quantitative", "scale": {"domain": [0, 0.7], "nice": false}, "axis": {"values": [0, 0.2, 0.4, 0.6], "format": "~g", "title": "γ"}},
    "y": {"field": "n", "type": "quantitative", "scale": {"domain": [0, 510], "nice": false}, "axis": {"values": [0, 100, 200, 300, 400, 500], "title": "n"}}}},
  {"data": {"name": "orange"}, "mark": {"type": "point", "shape": "M-1,-1L1,1M-1,1L1,-1", "filled": false, "stroke": "#e07f00", "strokeWidth": 1.1, "size": 64, "opacity": 1},
   "encoding": {"x": {"field": "g", "type": "quantitative"}, "y": {"field": "n", "type": "quantitative"}}},
  {"data": {"name": "green"}, "mark": {"type": "point", "shape": "cross", "filled": true, "fill": "#0f7f12", "size": 45, "opacity": 1},
   "encoding": {"x": {"field": "g", "type": "quantitative"}, "y": {"field": "n", "type": "quantitative"}}},
  {"data": {"values": [{}]}, "mark": {"type": "text", "fontSize": 29, "baseline": "alphabetic", "align": "center", "color": "#111111"},
   "encoding": {"x": {"datum": 0.597}, "y": {"datum": 432}, "text": {"value": "c"}}}
 ]}
],
"config": {
 "font": "Liberation Sans",
 "view": {"stroke": "#555555", "strokeWidth": 1},
 "axis": {"domain": false, "grid": false, "tickSize": -4, "tickColor": "#555555", "labelFont": "Liberation Sans", "labelFontSize": 14, "labelColor": "#222222", "labelPadding": 9, "labelFlush": false, "labelOverlap": false, "titleFont": "Liberation Sans", "titleFontSize": 18, "titleFontWeight": "normal", "titleColor": "#222222", "titlePadding": 8},
 "text": {"font": "Liberation Sans"}
}
}
